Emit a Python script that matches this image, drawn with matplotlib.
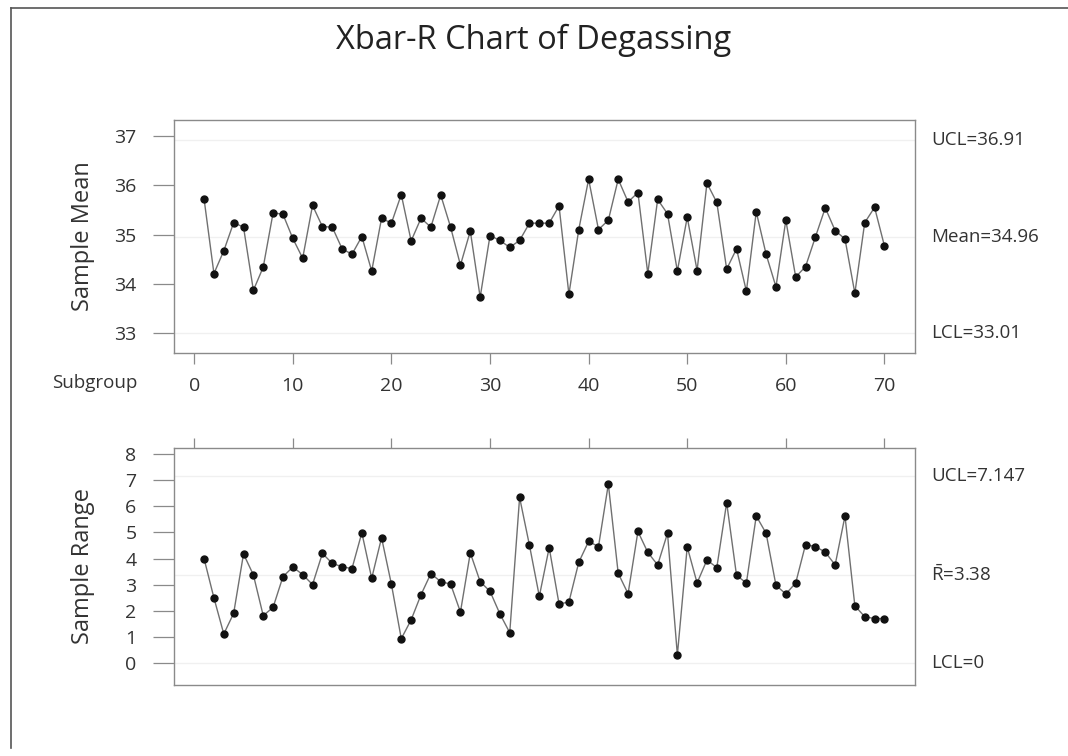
import matplotlib
matplotlib.use('Agg')
import matplotlib.pyplot as plt
import matplotlib.transforms as mtransforms
from matplotlib.lines import Line2D

# ---------------- data ----------------
subgroups = list(range(1, 71))
sample_means = [35.72, 34.21, 34.67, 35.24, 35.15, 33.87, 34.34, 35.44, 35.41, 34.92,
                34.52, 35.59, 35.16, 35.15, 34.71, 34.60, 34.96, 34.26, 35.33, 35.23,
                35.81, 34.87, 35.33, 35.15, 35.80, 35.15, 34.38, 35.07, 33.73, 34.98,
                34.88, 34.74, 34.88, 35.23, 35.23, 35.23, 35.58, 33.79, 35.10, 36.12,
                35.10, 35.29, 36.12, 35.66, 35.85, 34.21, 35.71, 35.42, 34.26, 35.35,
                34.27, 36.04, 35.65, 34.30, 34.71, 33.85, 35.46, 34.60, 33.94, 35.29,
                34.14, 34.35, 34.95, 35.54, 35.08, 34.91, 33.81, 35.24, 35.55, 34.77]
sample_ranges = [4.00, 2.50, 1.12, 1.91, 4.18, 3.38, 1.82, 2.14, 3.31, 3.68,
                 3.39, 3.01, 4.20, 3.82, 3.69, 3.62, 4.99, 3.25, 4.80, 3.02,
                 0.94, 1.66, 2.62, 3.43, 3.12, 3.03, 1.96, 4.22, 3.12, 2.75,
                 1.89, 1.17, 6.34, 4.51, 2.56, 4.42, 2.27, 2.34, 3.86, 4.66,
                 4.46, 6.85, 3.44, 2.66, 5.04, 4.24, 3.76, 4.97, 0.32, 4.45,
                 3.07, 3.95, 3.66, 6.14, 3.36, 3.07, 5.63, 4.97, 2.98, 2.65,
                 3.07, 4.54, 4.46, 4.25, 3.76, 5.63, 2.20, 1.78, 1.71, 1.71]
xbar_limits = {"UCL": 36.91, "Mean": 34.96, "LCL": 33.01}
r_limits = {"UCL": 7.147, "Rbar": 3.38, "LCL": 0}
x_ticks = [0, 10, 20, 30, 40, 50, 60, 70]
mean_ticks = [33, 34, 35, 36, 37]
range_ticks = [0, 1, 2, 3, 4, 5, 6, 7, 8]

title = "Xbar-R Chart of Degassing"

# ---------------- style ----------------
plt.rcParams['font.family'] = ['Open Sans', 'DejaVu Sans']
plt.rcParams['mathtext.fontset'] = 'custom'
plt.rcParams['mathtext.rm'] = 'Open Sans'
TXT = '#333333'
SPINE = '#8a8a8a'

W, H = 1068, 756
fig = plt.figure(figsize=(W / 100, H / 100), dpi=100)
fig.patch.set_facecolor('white')


def box(l, t, r, b):
    return [l / W, 1 - b / H, (r - l) / W, (b - t) / H]


ax1 = fig.add_axes(box(174, 120, 915, 353))
ax2 = fig.add_axes(box(174, 448, 915, 685))

xlim = (-2.05, 73.1)

for ax in (ax1, ax2):
    for s in ax.spines.values():
        s.set_color(SPINE)
        s.set_linewidth(1.0)
    ax.set_xlim(*xlim)
    ax.tick_params(axis='y', direction='out', length=15, width=0.9, color=SPINE,
                   labelsize=14, labelcolor=TXT, pad=12)

# ---- Xbar chart ----
ax1.plot(subgroups, sample_means, color='#707070', lw=1.0, zorder=3,
         marker='o', ms=5, mfc='#111111', mec='#111111')
for v in xbar_limits.values():
    ax1.axhline(v, color='#f0f0f0', lw=1.0, zorder=1)
ax1.set_ylim(32.6, 37.32)
ax1.set_yticks(mean_ticks)
ax1.set_xticks(x_ticks)
ax1.tick_params(axis='x', direction='out', length=8, width=0.9, color=SPINE,
                labelsize=14, labelcolor=TXT, pad=9)
ax1.set_ylabel("Sample Mean", fontsize=17, color=TXT)

# ---- R chart ----
ax2.plot(subgroups, sample_ranges, color='#707070', lw=1.0, zorder=3,
         marker='o', ms=5, mfc='#111111', mec='#111111')
for v in r_limits.values():
    ax2.axhline(v, color='#f0f0f0', lw=1.0, zorder=1)
ax2.set_ylim(-0.83, 8.23)
ax2.set_yticks(range_ticks)
ax2.set_xticks(x_ticks)
ax2.tick_params(axis='x', direction='out', length=7, width=0.9, color=SPINE,
                bottom=False, top=True, labelbottom=False, labeltop=False)
ax2.set_ylabel("Sample Range", fontsize=17, color=TXT)

# align ylabels
ax1.yaxis.set_label_coords(-0.106, 0.5)
ax2.yaxis.set_label_coords(-0.106, 0.5)

# ---- limit labels ----
xpos = (931 - 174) / (915 - 174)
tr1 = mtransforms.blended_transform_factory(ax1.transAxes, ax1.transData)
tr2 = mtransforms.blended_transform_factory(ax2.transAxes, ax2.transData)
LFS = 13.5
ax1.text(xpos, xbar_limits["UCL"], f"UCL={xbar_limits['UCL']:.2f}", transform=tr1,
         va='center', ha='left', fontsize=LFS, color=TXT)
ax1.text(xpos, xbar_limits["Mean"], f"Mean={xbar_limits['Mean']:.2f}", transform=tr1,
         va='center', ha='left', fontsize=LFS, color=TXT)
ax1.text(xpos, xbar_limits["LCL"], f"LCL={xbar_limits['LCL']:.2f}", transform=tr1,
         va='center', ha='left', fontsize=LFS, color=TXT)
ax2.text(xpos, r_limits["UCL"], f"UCL={r_limits['UCL']:.3f}", transform=tr2,
         va='center', ha='left', fontsize=LFS, color=TXT)
ax2.text(xpos, r_limits["Rbar"], r"$\bar{\mathrm{R}}$" + f"={r_limits['Rbar']:.2f}", transform=tr2,
         va='center', ha='left', fontsize=LFS, color=TXT)
ax2.text(xpos, r_limits["LCL"], f"LCL={r_limits['LCL']}", transform=tr2,
         va='center', ha='left', fontsize=LFS, color=TXT)

# Subgroup label
fig.text(95 / W, 1 - 383 / H, "Subgroup", ha='center', va='center', fontsize=13.5, color=TXT)

# Title
fig.text(534 / W, 1 - 40 / H, title, ha='center', va='center', fontsize=23.5, color='#222222')

# outer frame
fig.add_artist(Line2D([11 / W, 11 / W], [1 - 8 / H, 1 - 748 / H], transform=fig.transFigure,
                      color='#555555', lw=1.2))
fig.add_artist(Line2D([11 / W, 1.0], [1 - 8 / H, 1 - 8 / H], transform=fig.transFigure,
                      color='#555555', lw=1.2))

fig.savefig('out.png', dpi=100)
